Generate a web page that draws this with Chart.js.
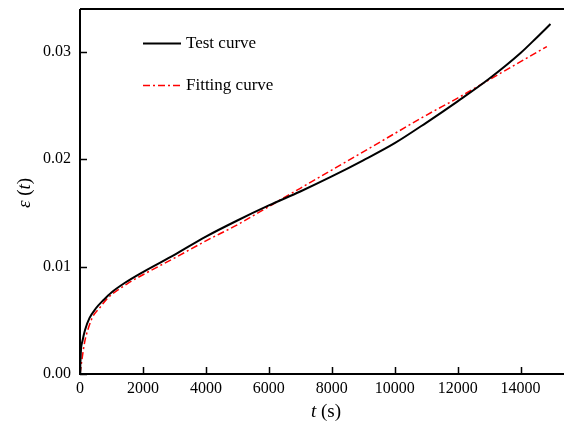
<!DOCTYPE html>
<html>
<head>
<meta charset="utf-8">
<script src="https://cdn.jsdelivr.net/npm/chart.js@4.4.1/dist/chart.umd.min.js"></script>
<style>
  html, body { margin: 0; padding: 0; background: #ffffff; overflow: hidden; }
  #wrap { width: 564px; height: 423px; position: relative; }
</style>
</head>
<body>
<div id="wrap"><canvas id="creep"></canvas></div>
<script>
// values
const testTime = [0, 30, 80, 160, 300, 500, 750, 1000, 1430, 2000, 3000, 4000, 5000, 6000, 7000, 8000, 9000, 10000, 11000, 12000, 13000, 14000, 14500, 14950];
const testStrain = [0, 0.0022, 0.0031, 0.0041, 0.0052, 0.0061, 0.0069, 0.0076, 0.0085, 0.0095, 0.0111, 0.0128, 0.0143, 0.0157, 0.0170, 0.0184, 0.0199, 0.0215, 0.0234, 0.0254, 0.0275, 0.0299, 0.0313, 0.0326];

const fitTime = [0, 60, 150, 270, 400, 635, 890, 1500, 2160, 3000, 4000, 5000, 6000, 7000, 8000, 9000, 10000, 11000, 12000, 13000, 14000, 14835];
const fitStrain = [0, 0.0013, 0.0030, 0.0043, 0.0053, 0.0062, 0.0071, 0.0084, 0.0095, 0.0108, 0.0124, 0.0139, 0.0156, 0.0173, 0.0190, 0.0207, 0.0224, 0.0241, 0.0257, 0.0274, 0.0291, 0.0305];

const xTicks = [0, 2000, 4000, 6000, 8000, 10000, 12000, 14000];
const yTicks = [0, 0.01, 0.02, 0.03];
const seriesNames = ["Test curve", "Fitting curve"];

const serif = "'Liberation Serif', 'Times New Roman', serif";

function toPoints(xs, ys) {
  return xs.map((x, i) => ({ x: x, y: ys[i] }));
}

// frame, inward ticks, axis titles and the legend
const framePlugin = {
  id: "frame",
  beforeDraw(chart) {
    const ctx = chart.ctx;
    ctx.save();
    ctx.fillStyle = "#ffffff";
    ctx.fillRect(0, 0, chart.width, chart.height);
    ctx.restore();
  },
  afterDraw(chart) {
    const ctx = chart.ctx;
    const area = chart.chartArea;
    const xs = chart.scales.x;
    const ys = chart.scales.y;
    ctx.save();
    ctx.strokeStyle = "#000000";
    ctx.lineWidth = 2;
    ctx.beginPath();
    ctx.moveTo(area.left, area.top);
    ctx.lineTo(area.left, area.bottom);
    ctx.lineTo(area.right, area.bottom);
    ctx.moveTo(area.left, area.top);
    ctx.lineTo(area.right, area.top);
    ctx.stroke();

    ctx.lineWidth = 1.5;
    ctx.beginPath();
    xTicks.forEach((v) => {
      const px = Math.round(xs.getPixelForValue(v)) + 0.5;
      ctx.moveTo(px, area.bottom);
      ctx.lineTo(px, area.bottom - 7);
    });
    yTicks.forEach((v) => {
      const py = Math.round(ys.getPixelForValue(v)) + 0.5;
      ctx.moveTo(area.left, py);
      ctx.lineTo(area.left + 7, py);
    });
    ctx.stroke();

    // x title: t (s)
    ctx.fillStyle = "#000000";
    ctx.textBaseline = "middle";
    ctx.textAlign = "left";
    ctx.font = "italic 19px " + serif;
    const tW = ctx.measureText("t").width;
    ctx.font = "19px " + serif;
    const sW = ctx.measureText(" (s)").width;
    let sx = 326 - (tW + sW) / 2;
    ctx.font = "italic 19px " + serif;
    ctx.fillText("t", sx, 412);
    ctx.font = "19px " + serif;
    ctx.fillText(" (s)", sx + tW, 412);

    // y title: ε (t)
    ctx.save();
    ctx.translate(25, 193);
    ctx.rotate(-Math.PI / 2);
    ctx.font = "italic 19px " + serif;
    const eW = ctx.measureText("ε").width;
    const t2W = ctx.measureText("t").width;
    ctx.font = "19px " + serif;
    const openW = ctx.measureText(" (").width;
    const closeW = ctx.measureText(")").width;
    let ex = -(eW + openW + t2W + closeW) / 2;
    ctx.font = "italic 19px " + serif;
    ctx.fillText("ε", ex, 0);
    ctx.font = "19px " + serif;
    ctx.fillText(" (", ex + eW, 0);
    ctx.font = "italic 19px " + serif;
    ctx.fillText("t", ex + eW + openW, 0);
    ctx.font = "19px " + serif;
    ctx.fillText(")", ex + eW + openW + t2W, 0);
    ctx.restore();

    // legend
    const rows = [43, 85];
    chart.data.datasets.forEach((ds, i) => {
      const y = rows[i] + 0.5;
      ctx.strokeStyle = ds.borderColor;
      ctx.lineWidth = ds.borderWidth;
      ctx.setLineDash(ds.borderDash || []);
      ctx.beginPath();
      ctx.moveTo(143, y);
      ctx.lineTo(181, y);
      ctx.stroke();
      ctx.setLineDash([]);
      ctx.fillStyle = "#000000";
      ctx.font = "17px " + serif;
      ctx.textAlign = "left";
      ctx.textBaseline = "middle";
      ctx.fillText(seriesNames[i], 186, rows[i] + 1);
    });
    ctx.restore();
  },
};

const ctx = document.getElementById("creep").getContext("2d");
new Chart(ctx, {
  type: "line",
  data: {
    datasets: [
      {
        label: seriesNames[0],
        data: toPoints(testTime, testStrain),
        borderColor: "#000000",
        borderWidth: 2,
        pointRadius: 0,
        cubicInterpolationMode: "monotone",
        fill: false,
      },
      {
        label: seriesNames[1],
        data: toPoints(fitTime, fitStrain),
        borderColor: "#ff0000",
        borderWidth: 1.5,
        borderDash: [7, 3, 2, 3],
        pointRadius: 0,
        cubicInterpolationMode: "monotone",
        fill: false,
      },
    ],
  },
  options: {
    responsive: true,
    maintainAspectRatio: false,
    animation: false,
    events: [],
    layout: { padding: { top: 9, right: 0, left: 0, bottom: 0 } },
    plugins: {
      legend: { display: false },
      tooltip: { enabled: false },
      title: { display: false },
    },
    scales: {
      x: {
        type: "linear",
        min: 0,
        max: 15380,
        afterBuildTicks: (scale) => {
          scale.ticks = xTicks.map((v) => ({ value: v }));
        },
        afterFit: (scale) => {
          scale.height = 49;
          scale.paddingLeft = 0;
          scale.paddingRight = 0;
        },
        grid: { display: false, drawTicks: false },
        border: { display: false },
        ticks: {
          color: "#000000",
          padding: 5,
          maxRotation: 0,
          autoSkip: false,
          font: { family: serif, size: 16 },
          callback: (v) => String(v),
        },
      },
      y: {
        type: "linear",
        min: 0,
        max: 0.034,
        afterBuildTicks: (scale) => {
          scale.ticks = yTicks.map((v) => ({ value: v }));
        },
        afterFit: (scale) => {
          scale.width = 80;
          scale.paddingTop = 0;
          scale.paddingBottom = 0;
        },
        grid: { display: false, drawTicks: false },
        border: { display: false },
        ticks: {
          color: "#000000",
          padding: 9,
          autoSkip: false,
          font: { family: serif, size: 16 },
          callback: (v) => Number(v).toFixed(2),
        },
      },
    },
  },
  plugins: [framePlugin],
});
</script>
</body>
</html>
